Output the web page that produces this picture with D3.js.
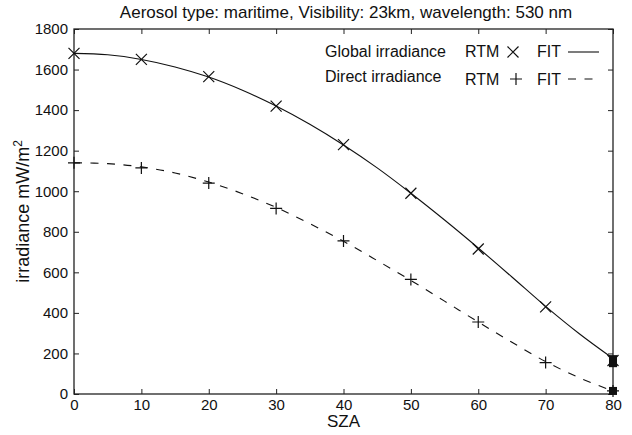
<!DOCTYPE html>
<html>
<head>
<meta charset="utf-8">
<script src="https://cdn.jsdelivr.net/npm/d3@7"></script>
<style>
  body { margin: 0; background: #fff; }
  svg text { font-family: "Liberation Sans", Arial, sans-serif; fill: #111; }
</style>
</head>
<body>
<div id="chart"></div>
<script>
// RTM sample points
const sza = [0, 10, 20, 30, 40, 50, 60, 70, 80];
const globalRtm = [1680, 1650, 1565, 1420, 1230, 990, 715, 430, 165];
const directRtm = [1140, 1115, 1040, 915, 755, 565, 355, 155, 15];

const fitSza = [0, 5, 10, 15, 20, 25, 30, 35, 40, 45, 50, 55, 60, 65, 70, 75, 80];
const globalFit = [1680, 1673, 1650, 1613, 1563, 1498, 1420, 1330, 1228, 1115, 990, 858, 720, 577, 432, 297, 175];
const directFit = [1140, 1136, 1120, 1090, 1045, 988, 920, 840, 753, 658, 560, 458, 355, 255, 160, 80, 15];

// filled end markers at SZA 80
const endMarks = [172, 152, 15];

const xTicks = [0, 10, 20, 30, 40, 50, 60, 70, 80];
const yTicks = [0, 200, 400, 600, 800, 1000, 1200, 1400, 1600, 1800];

const width = 632, height = 435;
const margin = { top: 29, right: 19, bottom: 41, left: 74 };
const w = width - margin.left - margin.right;
const h = height - margin.top - margin.bottom;

const svg = d3.select('#chart').append('svg')
    .attr('width', width)
    .attr('height', height);

const g = svg.append('g').attr('transform', `translate(${margin.left},${margin.top})`);

const x = d3.scaleLinear().domain([0, 80]).range([0, w]);
const y = d3.scaleLinear().domain([0, 1800]).range([h, 0]);

// axes, ticks pointing inwards on all four sides
const axisStyle = (sel) => {
    sel.select('.domain').remove();
    sel.selectAll('line').attr('stroke', '#222').attr('stroke-width', 1);
    sel.selectAll('text').style('font-size', '15px');
};

g.append('g')
    .attr('transform', `translate(0,${h})`)
    .call(d3.axisBottom(x).tickValues(xTicks).tickSize(-5).tickPadding(5).tickFormat(d3.format('d')))
    .call(axisStyle);

g.append('g')
    .call(d3.axisLeft(y).tickValues(yTicks).tickSize(-5).tickPadding(6).tickFormat(d3.format('d')))
    .call(axisStyle);

g.append('g')
    .call(d3.axisTop(x).tickValues(xTicks).tickSize(-5).tickFormat(''))
    .call(axisStyle);

g.append('g')
    .attr('transform', `translate(${w},0)`)
    .call(d3.axisRight(y).tickValues(yTicks).tickSize(-5).tickFormat(''))
    .call(axisStyle);

g.append('rect')
    .attr('width', w).attr('height', h)
    .attr('fill', 'none').attr('stroke', '#222').attr('stroke-width', 1.3);

// fit lines
const line = d3.line()
    .x((d) => x(d[0]))
    .y((d) => y(d[1]))
    .curve(d3.curveCatmullRom);

g.append('path')
    .datum(fitSza.map((s, i) => [s, globalFit[i]]))
    .attr('d', line)
    .attr('fill', 'none').attr('stroke', '#111').attr('stroke-width', 1.1);

g.append('path')
    .datum(fitSza.map((s, i) => [s, directFit[i]]))
    .attr('d', line)
    .attr('fill', 'none').attr('stroke', '#111').attr('stroke-width', 1.1)
    .attr('stroke-dasharray', '8,8.5');

// markers
const xMark = 'M-5.5,-5.5L5.5,5.5M-5.5,5.5L5.5,-5.5';
const plusMark = 'M-6,0L6,0M0,-6L0,6';

g.selectAll('.gx')
    .data(sza.map((v, i) => [v, globalRtm[i]]))
    .enter().append('path')
    .attr('d', xMark)
    .attr('transform', (d) => `translate(${x(d[0])},${y(d[1])})`)
    .attr('stroke', '#111').attr('stroke-width', 1.2).attr('fill', 'none');

g.selectAll('.dp')
    .data(sza.map((v, i) => [v, directRtm[i]]))
    .enter().append('path')
    .attr('d', plusMark)
    .attr('transform', (d) => `translate(${x(d[0])},${y(d[1])})`)
    .attr('stroke', '#111').attr('stroke-width', 1.2).attr('fill', 'none');

g.selectAll('.em')
    .data(endMarks)
    .enter().append('rect')
    .attr('x', x(80) - 4).attr('y', (d) => y(d) - 4)
    .attr('width', 8).attr('height', 8)
    .attr('fill', '#111');

// title and axis labels
svg.append('text')
    .attr('x', 346).attr('y', 18)
    .attr('text-anchor', 'middle')
    .style('font-size', '17px')
    .text('Aerosol type: maritime, Visibility: 23km, wavelength: 530 nm');

svg.append('text')
    .attr('x', margin.left + w / 2).attr('y', 427)
    .attr('text-anchor', 'middle')
    .style('font-size', '17px')
    .text('SZA');

const yl = svg.append('text')
    .attr('text-anchor', 'middle')
    .attr('transform', `translate(29,${margin.top + h / 2}) rotate(-90)`)
    .style('font-size', '18px');
yl.append('tspan').text('irradiance mW/m');
yl.append('tspan').attr('dy', -7).style('font-size', '12px').text('2');

// legend
const legend = svg.append('g').style('font-size', '16px');
legend.append('text').attr('x', 325).attr('y', 57).text('Global irradiance');
legend.append('text').attr('x', 465).attr('y', 57).text('RTM');
legend.append('path')
    .attr('d', xMark)
    .attr('transform', 'translate(513,52)')
    .attr('stroke', '#111').attr('stroke-width', 1.2);
legend.append('text').attr('x', 537).attr('y', 57).text('FIT');
legend.append('line')
    .attr('x1', 568).attr('x2', 599).attr('y1', 52).attr('y2', 52)
    .attr('stroke', '#111').attr('stroke-width', 1.1);

legend.append('text').attr('x', 325).attr('y', 82).text('Direct irradiance');
legend.append('text').attr('x', 465).attr('y', 85).text('RTM');
legend.append('path')
    .attr('d', plusMark)
    .attr('transform', 'translate(516,79)')
    .attr('stroke', '#111').attr('stroke-width', 1.2);
legend.append('text').attr('x', 537).attr('y', 85).text('FIT');
legend.append('line')
    .attr('x1', 568).attr('x2', 599).attr('y1', 79).attr('y2', 79)
    .attr('stroke', '#111').attr('stroke-width', 1.1)
    .attr('stroke-dasharray', '8,8.5');
</script>
</body>
</html>
